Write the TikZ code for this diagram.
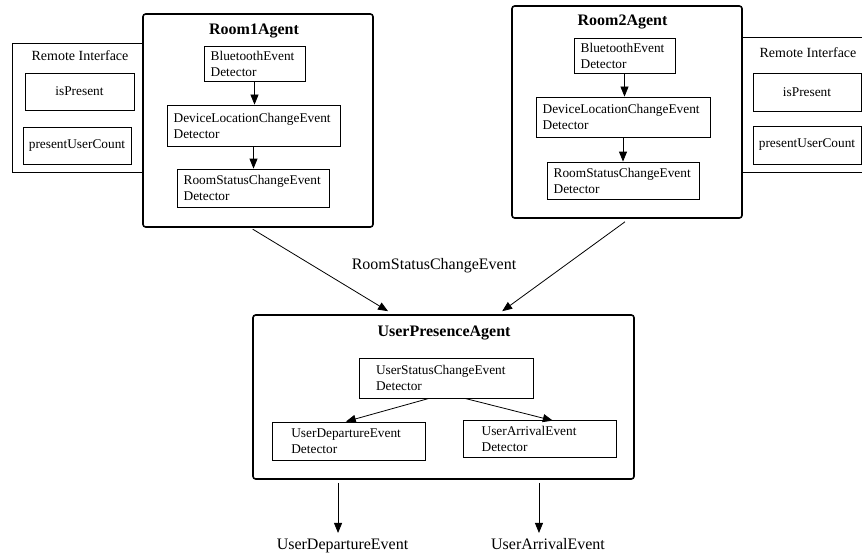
\documentclass[tikz,border=0pt]{standalone}
\usepackage{fontspec}
\setmainfont{Liberation Serif}
\usetikzlibrary{arrows.meta}
\tikzset{
  agent/.style={draw, line width=1.2pt, rounded corners=2pt, fill=white, inner sep=0pt},
  detector/.style={draw, line width=0.6pt, align=left, inner xsep=5pt, font=\fontsize{10}{12}\selectfont},
  iface/.style={draw, line width=0.6pt, inner sep=0pt, font=\fontsize{10}{12}\selectfont},
  ifacetitle/.style={font=\fontsize{10.5}{12}\selectfont},
  agenttitle/.style={font=\fontsize{12}{14}\selectfont\bfseries},
  evt/.style={font=\fontsize{12}{14}\selectfont, text height=8.5pt, text depth=2.5pt},
  arr/.style={-{Triangle[length=7.5pt,width=6pt]}, line width=0.6pt}
}
\begin{document}
\begin{tikzpicture}[x=0.75pt,y=-0.75pt]
    \useasboundingbox (0,0) rectangle (862,556);

    % remote interfaces (behind the agents)
    \node[iface, minimum width=98.25pt, minimum height=96.75pt] (ri1) at (77.5,107.5) {};
    \node[ifacetitle] (ri1t) at (80,56) {Remote Interface};
    \node[iface, minimum width=81.75pt, minimum height=27.75pt] (ip1) at (79.5,91.5) {isPresent};
    \node[iface, minimum width=81pt, minimum height=27.75pt] (pc1) at (77,145.5) {presentUserCount};

    \node[iface, minimum width=103.5pt, minimum height=101.25pt] (ri2) at (811,104.5) {};
    \node[ifacetitle] (ri2t) at (808,53) {Remote Interface};
    \node[iface, minimum width=81pt, minimum height=28.5pt] (ip2) at (807,92) {isPresent};
    \node[iface, minimum width=81pt, minimum height=28.5pt] (pc2) at (807,145) {presentUserCount};

    % Room1Agent
    \node[agent, minimum width=172.5pt, minimum height=159.75pt] (r1) at (258,120.5) {};
    \node[agenttitle] (r1t) at (254,31) {Room1Agent};
    \node[detector, text width=65.75pt, minimum height=26.25pt] (bt1) at (254.5,63.5) {BluetoothEvent\\Detector};
    \node[detector, text width=119.75pt, minimum height=30.75pt] (dl1) at (253.5,125.5) {DeviceLocationChangeEvent\\Detector};
    \node[detector, text width=104pt, minimum height=28.5pt] (rs1) at (253,188) {RoomStatusChangeEvent\\Detector};
    \draw[arr] (bt1.south) -- (bt1.south |- dl1.north);
    \draw[arr] (dl1.south) -- (dl1.south |- rs1.north);

    % Room2Agent
    \node[agent, minimum width=172.5pt, minimum height=159pt] (r2) at (627,112) {};
    \node[agenttitle] (r2t) at (622.5,22) {Room2Agent};
    \node[detector, text width=65.75pt, minimum height=26.25pt] (bt2) at (624.5,55.5) {BluetoothEvent\\Detector};
    \node[detector, text width=120.5pt, minimum height=30pt] (dl2) at (623,117) {DeviceLocationChangeEvent\\Detector};
    \node[detector, text width=104pt, minimum height=27.75pt] (rs2) at (623,180.5) {RoomStatusChangeEvent\\Detector};
    \draw[arr] (bt2.south) -- (bt2.south |- dl2.north);
    \draw[arr] (dl2.south) -- (dl2.south |- rs2.north);

    % UserPresenceAgent
    \node[agent, minimum width=285.75pt, minimum height=123pt] (upa) at (443.5,397) {};
    \node[agenttitle] (upat) at (444,333) {UserPresenceAgent};
    \node[detector, inner xsep=12.75pt, text width=105pt, minimum height=30pt] (us) at (446,378) {UserStatusChangeEvent\\Detector};
    \node[detector, inner xsep=14.5pt, text width=85.75pt, minimum height=28.5pt] (ud) at (348.5,441) {UserDepartureEvent\\Detector};
    \node[detector, inner xsep=14pt, text width=86.75pt, minimum height=27.75pt] (ua) at (539.5,438.5) {UserArrivalEvent\\Detector};
    \draw[arr] ([xshift=-12.75pt]us.south) -- ([xshift=-2pt]ud.north);
    \draw[arr] ([xshift=14.25pt]us.south) -- ([xshift=10pt,yshift=-0.75pt]ua.north);

    % events between agents
    \node[evt] (rsce) at (434,265) {RoomStatusChangeEvent};
    \draw[arr] ([xshift=-4pt,yshift=-1pt]r1.south) -- ([xshift=-41.6pt,yshift=2.25pt]upa.north);
    \draw[arr] ([xshift=-1.5pt,yshift=-2.25pt]r2.south) -- ([xshift=44pt,yshift=2.25pt]upa.north);

    % outgoing events
    \node[evt] (ude) at (342.5,545) {UserDepartureEvent};
    \node[evt] (uae) at (548,545) {UserArrivalEvent};
    \coordinate (o1) at ([xshift=-79.1pt,yshift=-2.25pt]upa.south);
    \coordinate (o2) at ([xshift=71.6pt,yshift=-2.25pt]upa.south);
    \draw[arr] (o1) -- (o1 |- ude.north);
    \draw[arr] (o2) -- (o2 |- uae.north);

\end{tikzpicture}
\end{document}
